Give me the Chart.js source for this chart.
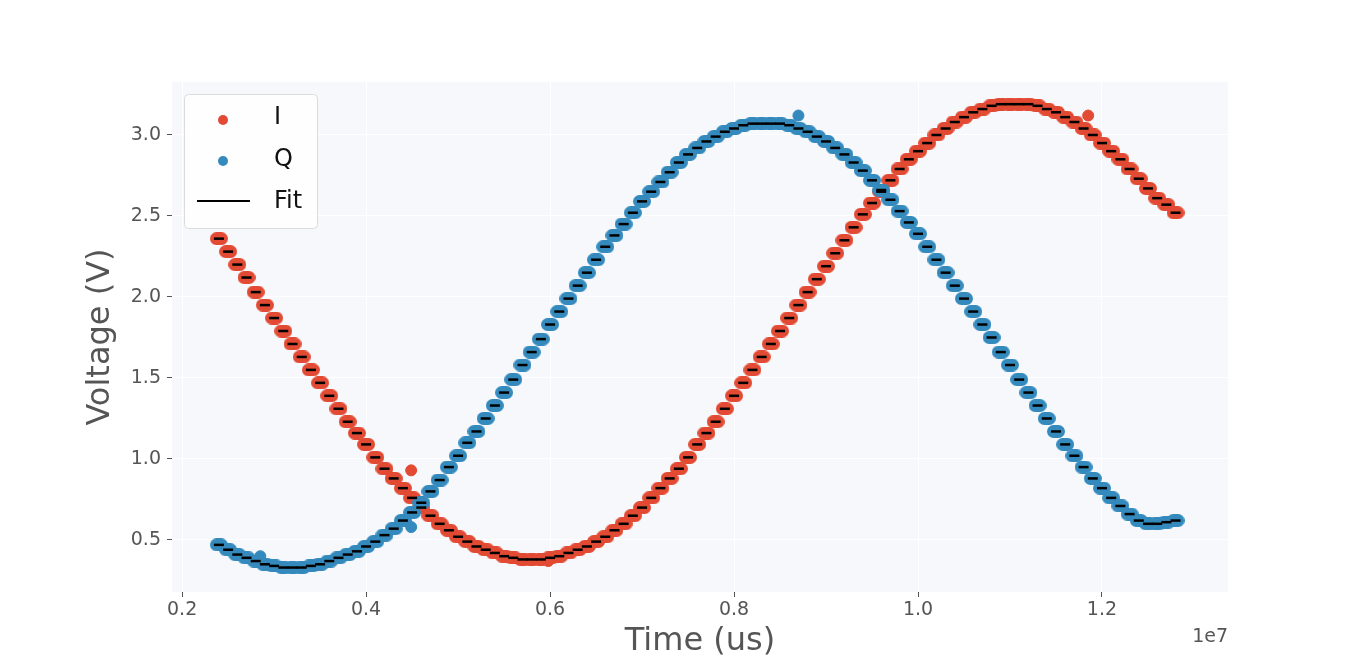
<!DOCTYPE html>
<html>
<head>
<meta charset="utf-8">
<script src="https://cdn.jsdelivr.net/npm/chart.js@4"></script>
<style>
  html, body { margin: 0; padding: 0; background: #fff; }
  #wrap { width: 1364px; height: 665px; }
</style>
</head>
<body>
<div id="wrap"><canvas id="chart" width="1364" height="665"></canvas></div>
<script>
// time in units of 1e7 us
const timeVals = [
  0.240,0.250,0.260,0.270,0.280,0.290,0.300,0.310,0.320,0.330,
  0.340,0.350,0.360,0.370,0.380,0.390,0.400,0.410,0.420,0.430,
  0.440,0.450,0.460,0.470,0.480,0.490,0.500,0.510,0.520,0.530,
  0.540,0.550,0.560,0.570,0.580,0.590,0.600,0.610,0.620,0.630,
  0.640,0.650,0.660,0.670,0.680,0.690,0.700,0.710,0.720,0.730,
  0.740,0.750,0.760,0.770,0.780,0.790,0.800,0.810,0.820,0.830,
  0.840,0.850,0.860,0.870,0.880,0.890,0.900,0.910,0.920,0.930,
  0.940,0.950,0.960,0.970,0.980,0.990,1.000,1.010,1.020,1.030,
  1.040,1.050,1.060,1.070,1.080,1.090,1.100,1.110,1.120,1.130,
  1.140,1.150,1.160,1.170,1.180,1.190,1.200,1.210,1.220,1.230,
  1.240,1.250,1.260,1.270,1.280
];
const iVals = [
  2.36,2.28,2.20,2.12,2.03,1.95,1.87,1.79,1.71,1.63,
  1.55,1.47,1.39,1.31,1.23,1.16,1.09,1.01,0.94,0.88,
  0.82,0.76,0.70,0.65,0.60,0.56,0.52,0.49,0.46,0.44,
  0.42,0.40,0.39,0.38,0.38,0.38,0.39,0.40,0.42,0.44,
  0.46,0.49,0.52,0.56,0.60,0.65,0.70,0.76,0.82,0.88,
  0.94,1.01,1.09,1.16,1.23,1.31,1.39,1.47,1.55,1.63,
  1.71,1.79,1.87,1.95,2.03,2.11,2.19,2.27,2.35,2.43,
  2.51,2.58,2.65,2.72,2.79,2.85,2.90,2.95,3.00,3.04,
  3.08,3.11,3.14,3.16,3.18,3.19,3.19,3.19,3.19,3.18,
  3.16,3.14,3.11,3.08,3.04,3.00,2.95,2.90,2.85,2.79,
  2.73,2.67,2.61,2.57,2.52
];
const qVals = [
  0.47,0.44,0.41,0.39,0.37,0.35,0.34,0.33,0.33,0.33,
  0.34,0.35,0.37,0.39,0.41,0.43,0.46,0.49,0.53,0.57,
  0.62,0.67,0.73,0.80,0.87,0.95,1.02,1.10,1.17,1.25,
  1.33,1.41,1.49,1.58,1.66,1.74,1.83,1.91,1.99,2.07,
  2.15,2.23,2.31,2.38,2.45,2.52,2.59,2.65,2.71,2.77,
  2.83,2.88,2.92,2.96,2.99,3.02,3.04,3.06,3.07,3.07,
  3.07,3.07,3.06,3.04,3.02,2.99,2.96,2.92,2.88,2.83,
  2.78,2.72,2.66,2.60,2.53,2.46,2.39,2.31,2.23,2.15,
  2.07,1.99,1.91,1.83,1.75,1.66,1.58,1.49,1.41,1.33,
  1.25,1.17,1.09,1.02,0.95,0.88,0.82,0.76,0.71,0.66,
  0.62,0.60,0.60,0.61,0.62
];
// stray samples
const iOutT = [0.449, 0.598, 1.185];
const iOutV = [0.93, 0.37, 3.12];
const qOutT = [0.449, 0.870, 0.285];
const qOutV = [0.58, 3.12, 0.40];

const xTicks = [0.2, 0.4, 0.6, 0.8, 1.0, 1.2];
const yTicks = [0.5, 1.0, 1.5, 2.0, 2.5, 3.0];

const RED = '#e24a33';
const BLUE = '#348abd';

function pill(color) {
  const c = document.createElement('canvas');
  c.width = 18; c.height = 13;
  const g = c.getContext('2d');
  g.fillStyle = color;
  g.beginPath();
  g.roundRect(0, 0, 18, 13, 6.5);
  g.fill();
  return c;
}

const pts = (xs, ys) => xs.map((x, i) => ({ x: x, y: ys[i] }));

const ctx = document.getElementById('chart').getContext('2d');

new Chart(ctx, {
  type: 'scatter',
  data: {
    datasets: [
      { label: 'Fit', data: pts(timeVals, iVals).concat(pts(timeVals, qVals)), pointStyle: 'line', pointRadius: 5, borderColor: '#000', backgroundColor: '#000', pointBorderWidth: 2.5 },
      { label: 'Q', data: pts(timeVals, qVals), pointStyle: pill(BLUE), backgroundColor: BLUE, borderColor: BLUE },
      { label: 'I', data: pts(timeVals, iVals), pointStyle: pill(RED), backgroundColor: RED, borderColor: RED },
      { label: 'I out', data: pts(iOutT, iOutV), pointStyle: 'circle', pointRadius: 5.5, backgroundColor: RED, borderColor: RED },
      { label: 'Q out', data: pts(qOutT, qOutV), pointStyle: 'circle', pointRadius: 5.5, backgroundColor: BLUE, borderColor: BLUE }
    ]
  },
  options: {
    responsive: false,
    animation: false,
    layout: { padding: { top: 82, right: 136, left: 0, bottom: 0 } },
    plugins: { tooltip: { enabled: false }, legend: { display: false } },
    scales: {
      x: {
        type: 'linear', min: 0.189, max: 1.337,
        afterFit: s => { s.height = 73; },
        afterBuildTicks: s => { s.ticks = xTicks.map(v => ({ value: v })); },
        grid: { color: '#ffffff', lineWidth: 1, drawTicks: true, tickColor: '#555', tickLength: 5 },
        border: { display: false },
        ticks: { color: '#555', font: { family: 'DejaVu Sans', size: 19 }, padding: 2, callback: v => v.toFixed(1) },
        title: { display: true, text: 'Time (us)', color: '#555', font: { family: 'DejaVu Sans', size: 32 }, padding: { top: 0 } }
      },
      y: {
        type: 'linear', min: 0.179, max: 3.327,
        afterFit: s => { s.width = 172; },
        afterBuildTicks: s => { s.ticks = yTicks.map(v => ({ value: v })); },
        grid: { color: '#ffffff', lineWidth: 1, drawTicks: true, tickColor: '#555', tickLength: 5 },
        border: { display: false },
        ticks: { color: '#555', font: { family: 'DejaVu Sans', size: 19 }, padding: 6, callback: v => v.toFixed(1) },
        title: { display: false }
      }
    }
  },
  plugins: [{
    id: 'extras',
    beforeDraw: chart => {
      const a = chart.chartArea, c = chart.ctx;
      c.save();
      c.fillStyle = '#f7f8fc';
      c.fillRect(a.left, a.top, a.right - a.left, a.bottom - a.top);
      c.restore();
    },
    afterDraw: chart => {
      const c = chart.ctx;
      c.save();
      c.fillStyle = '#555';
      c.font = '19px "DejaVu Sans"';
      c.textAlign = 'right';
      c.fillText('1e7', 1228, 642);
      // y title
      c.translate(101, 337);
      c.rotate(-Math.PI / 2);
      c.textAlign = 'center';
      c.textBaseline = 'middle';
      c.font = '32px "DejaVu Sans"';
      c.fillText('Voltage (V)', 0, 0);
      c.restore();
      // legend
      c.save();
      c.fillStyle = 'rgba(255,255,255,0.85)';
      c.strokeStyle = '#dcdcdc';
      c.lineWidth = 1;
      c.beginPath();
      c.roundRect(184.5, 94.5, 133, 134, 4);
      c.fill(); c.stroke();
      c.font = '24px "DejaVu Sans"';
      c.textBaseline = 'middle';
      c.fillStyle = '#111';
      [['I', 118], ['Q', 160], ['Fit', 202]].forEach(([t, y]) => c.fillText(t, 274, y));
      c.fillStyle = RED; c.beginPath(); c.arc(223, 120, 5, 0, 2 * Math.PI); c.fill();
      c.fillStyle = BLUE; c.beginPath(); c.arc(223, 161, 5, 0, 2 * Math.PI); c.fill();
      c.strokeStyle = '#000'; c.lineWidth = 2;
      c.beginPath(); c.moveTo(197, 201); c.lineTo(250, 201); c.stroke();
      c.restore();
    }
  }]
});
</script>
</body>
</html>
